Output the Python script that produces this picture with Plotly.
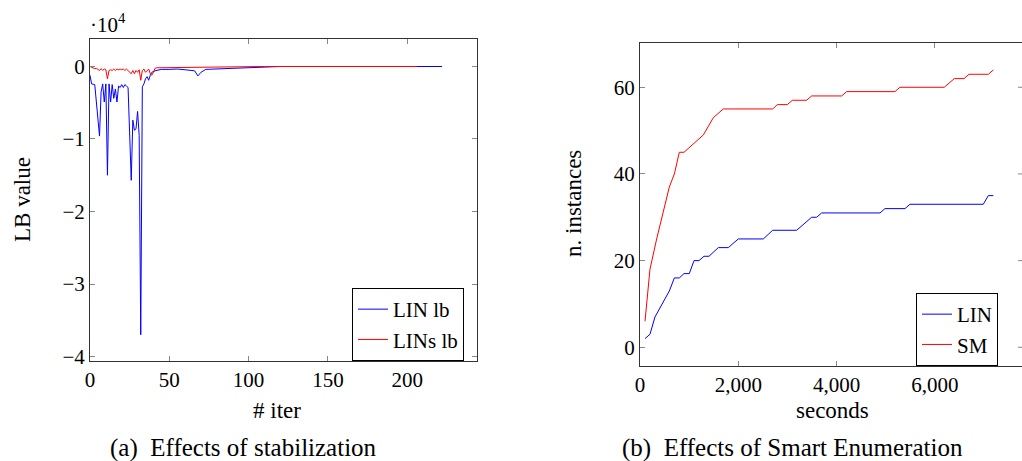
import plotly.graph_objects as go

# ---------------- data: (a) Effects of stabilization ----------------
LIN_ITER = [0, 1, 3, 6, 7, 8, 9, 10, 11, 12, 13, 14, 15, 16, 17, 18, 19, 20, 21, 22,
            23, 24, 26, 27, 28, 29, 30, 31, 32, 33, 34, 35, 36, 37, 38, 39, 41, 45, 50,
            55, 60, 63, 66, 68, 70, 73, 80, 90, 100, 110, 120, 222]
LIN_LB = [-1200, -2400, -2500, -9600, -3500, -2400, -4900, -2400, -15000, -2400,
          -4900, -2500, -4400, -3100, -4900, -2700, -2900, -2500, -2900, -2500,
          -2700, -2900, -15700, -7400, -8800, -8600, -6200, -9500, -37000, -2800,
          -2400, -1700, -1400, -1900, -1200, -800, -600, -400, -400,
          -350, -450, -500, -600, -1300, -800, -400, -350, -250, -150, -50, 0, 0]

LINS_ITER = [0, 1, 3, 4, 6, 7, 8, 9, 10, 11, 12, 13, 14, 15, 16, 17, 18, 19, 20, 21,
             22, 23, 25, 26, 27, 28, 29, 30, 31, 32, 33, 34, 35, 36, 37, 38, 39, 40,
             41, 42, 50, 60, 70, 80, 90, 100, 110, 206]
LINS_LB = [0, -100, -300, -250, -550, -300, -550, -350, -450, -1700, -550, -450,
           -550, -350, -550, -350, -450, -350, -450, -350, -550, -350, -800, -1000,
           -550, -1000, -550, -800, -450, -1900, -550, -350, -800, -550, -350,
           -1000, -1200, -800, -250, -180, -150, -120, -100, -80, -50, -20, 0, 0]

A_XTICKS = [0, 50, 100, 150, 200]
A_YTICKS = [0, -10000, -20000, -30000, -40000]
A_YTICKTEXT = ["0", "\u22121", "\u22122", "\u22123", "\u22124"]

# ---------------- data: (b) Effects of Smart Enumeration ----------------
LIN_T = [102, 203, 305, 597, 699, 800, 895, 1003, 1099, 1200, 1302, 1404, 1593,
         1797, 2000, 2509, 2699, 3187, 3492, 3594, 3696, 4883, 4984, 5391, 5492,
         6984, 7087, 7189]
LIN_N = [2, 3, 7, 13, 16, 16, 17, 17, 20, 20, 21, 21, 23, 23, 25, 25, 27, 27, 30,
         30, 31, 31, 32, 32, 33, 33, 35, 35]

SM_T = [102, 203, 339, 475, 597, 699, 800, 895, 1289, 1492, 1695, 2699, 2794, 2997,
        3099, 3390, 3492, 4103, 4204, 5187, 5289, 6191, 6395, 6592, 6694, 7087, 7189]
SM_N = [6, 18, 25, 31, 37, 40, 45, 45, 49, 53, 55, 55, 56, 56, 57, 57, 58, 58, 59,
        59, 60, 60, 62, 62, 63, 63, 64]

B_XTICKS = [0, 2000, 4000, 6000]
B_YTICKS = [0, 20, 40, 60]

W, H = 1022, 461
FONT = "'Liberation Serif', 'DejaVu Serif', serif"
BLUE, RED = "#0000ff", "#ff0000"


def px(x):
    return x / W


def py(y):
    return 1 - y / H


fig = go.Figure()
fig.add_trace(go.Scatter(x=LIN_ITER, y=LIN_LB, mode="lines", name="LIN lb",
                         line=dict(color=BLUE, width=1), xaxis="x", yaxis="y",
                         legend="legend"))
fig.add_trace(go.Scatter(x=LINS_ITER, y=LINS_LB, mode="lines", name="LINs lb",
                         line=dict(color=RED, width=1), xaxis="x", yaxis="y",
                         legend="legend"))
fig.add_trace(go.Scatter(x=LIN_T, y=LIN_N, mode="lines", name="LIN",
                         line=dict(color=BLUE, width=1), xaxis="x2", yaxis="y2",
                         legend="legend2"))
fig.add_trace(go.Scatter(x=SM_T, y=SM_N, mode="lines", name="SM",
                         line=dict(color=RED, width=1), xaxis="x2", yaxis="y2",
                         legend="legend2"))

axis_common = dict(showline=True, linecolor="#333333", linewidth=1, ticks="inside",
                   ticklen=5, tickcolor="#888888", tickwidth=1, showgrid=False,
                   zeroline=False, automargin=False,
                   tickfont=dict(family=FONT, size=21, color="black"))

fig.update_layout(
    template="none",
    width=W, height=H, autosize=False,
    margin=dict(l=0, r=0, t=0, b=0, pad=0),
    paper_bgcolor="white", plot_bgcolor="white",
    font=dict(family=FONT, size=21, color="black"),
    xaxis=dict(domain=[px(90), px(477)], range=[0, 244], tickvals=A_XTICKS,
               anchor="y", mirror="allticks", **axis_common),
    yaxis=dict(domain=[py(361), py(38.5)], range=[-40620, 3860], tickvals=A_YTICKS,
               ticktext=A_YTICKTEXT, anchor="x", mirror="allticks", **axis_common),
    xaxis2=dict(domain=[px(640), 1.0], range=[0, 7772], tickvals=B_XTICKS,
                tickformat=",", anchor="y2", mirror="allticks", **axis_common),
    yaxis2=dict(domain=[py(366), py(43.3)], range=[-4.32, 70.15], tickvals=B_YTICKS,
                anchor="x2", mirror=False, **axis_common),
    legend=dict(x=px(464), xanchor="right", y=py(361), yanchor="bottom",
                bordercolor="black", borderwidth=1, bgcolor="white",
                font=dict(family=FONT, size=21), tracegroupgap=0),
    legend2=dict(x=px(998), xanchor="right", y=py(366), yanchor="bottom",
                 bordercolor="black", borderwidth=1, bgcolor="white",
                 font=dict(family=FONT, size=21), tracegroupgap=0),
    showlegend=True,
)

# mirrored ticks of the right plot's right axis (its line lies just outside the page)
for v in B_YTICKS:
    fig.add_shape(type="line", xref="paper", yref="y2", x0=px(1018), x1=1.0,
                  y0=v, y1=v, line=dict(color="#888888", width=1))

ann = [
    dict(text="\u00b710<sup>4</sup>", x=px(88), y=py(23), xanchor="left"),
    dict(text="LB value", x=px(22), y=py(200), textangle=-90, size=23),
    dict(text="# iter", x=px(277), y=py(410), size=23),
    dict(text="n. instances", x=px(573), y=py(204), textangle=-90, size=23),
    dict(text="seconds", x=px(832), y=py(410), size=23),
    dict(text="(a)  Effects of stabilization", x=px(243), y=py(448), size=25),
    dict(text="(b)  Effects of Smart Enumeration", x=px(792), y=py(448), size=25),
]
for a in ann:
    size = a.pop("size", 21)
    a.setdefault("xanchor", "center")
    fig.add_annotation(xref="paper", yref="paper", showarrow=False, yanchor="middle",
                       font=dict(family=FONT, size=size, color="black"), **a)

fig.write_html("out.html", config={"displayModeBar": False},
               post_script="document.body.style.margin='0';"
                           "document.body.style.overflow='hidden';")
